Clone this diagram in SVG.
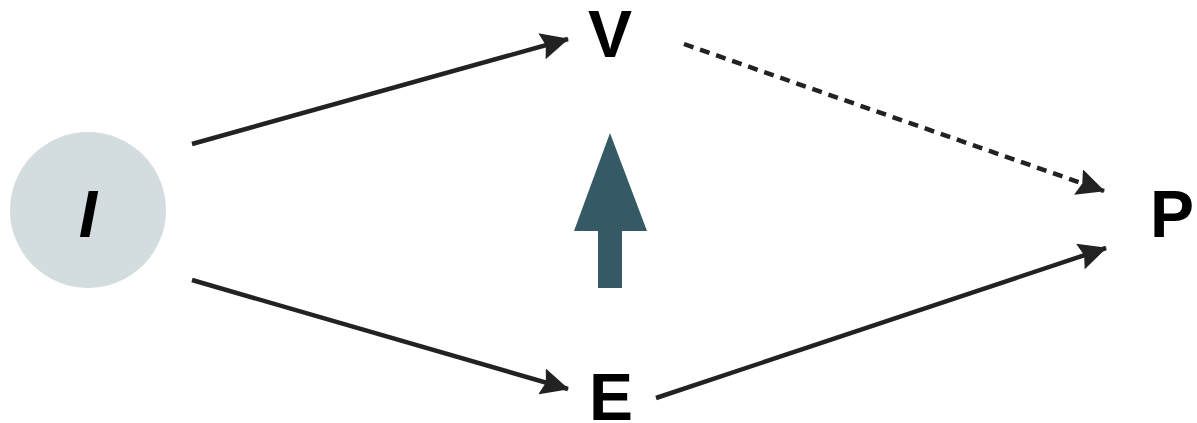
<svg xmlns="http://www.w3.org/2000/svg" width="1197" height="423" viewBox="0 0 1197 423">
<style>
.lbl{font-family:"Liberation Sans",Arial,sans-serif;font-weight:bold;font-size:66px;fill:#000;text-anchor:middle}
.edge{stroke:#222;stroke-width:4.5;fill:none}
.dash{stroke-dasharray:10 7}
</style>
<defs>
<marker id="ah" viewBox="0 0 28 27" refX="27" refY="13.5" markerWidth="28" markerHeight="27" markerUnits="userSpaceOnUse" orient="auto">
<path d="M0,0 L28,13.5 L0,27 L4,13.5 Z" fill="#222"/>
</marker>
</defs>
<g id="connectors">
<line class="edge" x1="192" y1="144" x2="568" y2="39" marker-end="url(#ah)"/>
<line class="edge" x1="192" y1="280" x2="568" y2="389" marker-end="url(#ah)"/>
<line class="edge" x1="656" y1="398" x2="1106" y2="248" marker-end="url(#ah)"/>
<line class="edge dash" x1="684" y1="44" x2="1104" y2="191" marker-end="url(#ah)"/>
</g>
<g id="node-I">
<circle cx="88" cy="210" r="78" fill="#d3dde0"/>
<text class="lbl" x="88" y="237" font-style="italic">I</text>
</g>
<g id="node-V"><text class="lbl" x="610" y="57">V</text></g>
<g id="node-E"><text class="lbl" x="611" y="420">E</text></g>
<g id="node-P"><text class="lbl" x="1172" y="237">P</text></g>
<g id="big-arrow">
<path d="M610,133 L647,231 L622,231 L622,288 L598,288 L598,231 L574,231 Z" fill="#355a66"/>
</g>
</svg>
